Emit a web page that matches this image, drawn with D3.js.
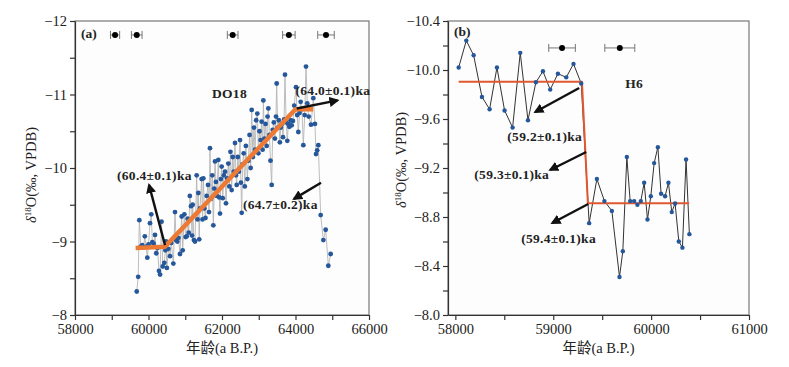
<!DOCTYPE html>
<html>
<head>
<meta charset="utf-8">
<script src="https://cdn.jsdelivr.net/npm/d3@7"></script>
<style>
  body { margin: 0; background: #fff; }
  svg text { font-family: "Liberation Serif", "DejaVu Serif", "Noto Sans CJK SC", serif !important; fill: #222; }
</style>
</head>
<body>
<svg id="chart" width="789" height="367" font-family="Liberation Serif, DejaVu Serif, serif"></svg>
<script>
// (a) DO18 record: age (a B.P.) and d18O (permil, VPDB)
const ageA = [59680, 59720, 59750, 59790, 59830, 59865, 59900, 59935, 59968, 60000,
  60040, 60075, 60105, 60140, 60177, 60212, 60245, 60285, 60315, 60355,
  60388, 60430, 60460, 60476, 60500, 60540, 60585, 60620, 60676, 60721,
  60750, 60785, 60815, 60857, 60903, 60930, 60976, 61010, 61040, 61065,
  61095, 61125, 61157, 61185, 61203, 61235, 61265, 61311, 61335, 61356,
  61380, 61401, 61446, 61470, 61492, 61520, 61550, 61583, 61620, 61646,
  61673, 61700, 61735, 61764, 61790, 61810, 61835, 61860, 61900, 61925,
  61946, 61970, 61991, 62020, 62050, 62082, 62109, 62140, 62172, 62200,
  62230, 62263, 62291, 62320, 62354, 62380, 62400, 62430, 62460, 62490,
  62515, 62536, 62560, 62590, 62620, 62650, 62690, 62717, 62750, 62780,
  62808, 62840, 62870, 62900, 62930, 62961, 62990, 63020, 63050, 63079,
  63105, 63125, 63155, 63185, 63215, 63240, 63261, 63290, 63320, 63352,
  63380, 63410, 63440, 63470, 63488, 63515, 63545, 63575, 63600, 63630,
  63660, 63690, 63714, 63745, 63777, 63805, 63832, 63865, 63897, 63930,
  63965, 64014, 64045, 64077, 64110, 64141, 64175, 64213, 64250, 64286,
  64320, 64360, 64422, 64485, 64530, 64558, 64590, 64621, 64685, 64758,
  64821, 64893, 64957]
const d18oA = [-8.32, -8.52, -9.29, -8.93, -8.95, -8.92, -9.07, -8.93, -8.78, -8.96,
  -9.25, -9.37, -8.99, -8.97, -9.09, -8.84, -8.91, -8.60, -8.55, -9.27,
  -8.66, -8.71, -8.88, -9.00, -8.64, -8.90, -8.80, -8.98, -8.70, -9.40,
  -9.02, -9.00, -9.05, -8.83, -9.34, -8.88, -9.37, -9.06, -9.07, -9.31,
  -9.12, -9.62, -9.48, -9.08, -9.50, -9.02, -9.00, -9.90, -9.30, -9.66,
  -9.03, -9.45, -9.85, -9.30, -9.86, -9.45, -9.32, -9.62, -9.77, -9.40,
  -10.27, -9.58, -9.90, -9.22, -9.72, -10.09, -9.81, -9.62, -10.11, -9.60,
  -9.38, -9.85, -10.02, -9.59, -9.90, -9.95, -9.52, -9.86, -10.06, -9.75,
  -10.22, -9.70, -10.15, -9.95, -10.34, -9.90, -9.77, -10.15, -9.95, -10.38,
  -9.80, -9.39, -10.05, -10.20, -9.75, -10.30, -9.85, -10.10, -10.45, -10.00,
  -10.79, -10.15, -10.55, -10.25, -10.65, -10.74, -10.20, -10.50, -10.38, -10.63,
  -10.25, -10.92, -10.40, -10.60, -10.30, -10.70, -10.81, -10.45, -10.10, -9.77,
  -10.52, -10.62, -10.40, -10.70, -11.15, -10.55, -10.65, -10.35, -10.55, -10.60,
  -10.42, -10.66, -11.27, -10.62, -10.37, -10.60, -10.56, -10.65, -10.58, -10.64,
  -10.85, -11.10, -10.72, -10.49, -10.75, -10.90, -10.80, -10.31, -10.72, -11.38,
  -10.88, -10.70, -10.59, -10.95, -10.60, -10.19, -10.24, -10.31, -9.36, -9.02,
  -9.16, -8.67, -8.83]
const trendAgeA = [59650, 60450, 64000, 64480]
const trendD18oA = [-8.91, -8.93, -10.80, -10.80]

// (b) H6 record
const ageB = [58034, 58112, 58187, 58272, 58350, 58425, 58503, 58585, 58663, 58742,
  58823, 58895, 58969, 59048, 59133, 59207, 59286, 59367, 59446, 59523,
  59599, 59677, 59711, 59752, 59786, 59827, 59860, 59895, 59929, 59963,
  59997, 60031, 60069, 60102, 60143, 60177, 60211, 60245, 60283, 60320,
  60357, 60391]
const d18oB = [-10.02, -10.24, -10.12, -9.78, -9.68, -10.02, -9.67, -9.53, -10.14, -9.59,
  -9.90, -9.99, -9.84, -9.97, -9.94, -10.05, -9.89, -8.75, -9.11, -8.93,
  -8.85, -8.31, -8.52, -9.29, -8.93, -8.93, -8.90, -8.93, -9.08, -8.78,
  -8.97, -9.24, -9.37, -8.99, -8.97, -9.08, -8.84, -8.91, -8.60, -8.55,
  -9.27, -8.66]
const trendAgeB = [58034, 59293, 59354, 60388]
const trendD18oB = [-9.905, -9.905, -8.912, -8.912]

// U-Th dates with 2-sigma errors
const datesA = [59090, 59680, 62290, 63820, 64830]
const dateErrA = [125, 145, 145, 170, 225]
const datesB = [59090, 59680]
const dateErrB = [136, 153]

// annotations: [text, x, y] and arrows [x1, y1, x2, y2], data units
const labelsA = [['DO18', 61728, -10.95], ['(64.0±0.1)ka', 64000, -10.99],
  ['(60.4±0.1)ka', 59143, -9.84], ['(64.7±0.2)ka', 62571, -9.44]]
const arrowsA = [[64033, -10.81, 65143, -10.92], [60449, -8.95, 60014, -9.77],
  [64694, -9.80, 63959, -9.58]]
const labelsB = [['H6', 59735, -9.853], ['(59.2±0.1)ka', 58531, -9.42],
  ['(59.3±0.1)ka', 58194, -9.11], ['(59.4±0.1)ka', 58673, -8.59]]
const arrowsB = [[59265, -9.853, 58816, -9.657], [59337, -9.331, 58969, -9.184],
  [59357, -8.906, 58990, -8.751]]

const svg = d3.select('#chart')

svg.append('defs').append('marker')
  .attr('id', 'head')
  .attr('viewBox', '0 0 10 10')
  .attr('refX', 8).attr('refY', 5)
  .attr('markerWidth', 4.2).attr('markerHeight', 4.2)
  .attr('markerUnits', 'strokeWidth')
  .attr('orient', 'auto')
  .append('path').attr('d', 'M0,0 L10,5 L0,10 Z').attr('fill', '#111')

function drawPanel (cfg) {
  const x = d3.scaleLinear().domain(cfg.xDomain).range(cfg.xRange)
  const y = d3.scaleLinear().domain(cfg.yDomain).range(cfg.yRange)
  const g = svg.append('g')

  // frame
  g.append('rect')
    .attr('x', cfg.xRange[0]).attr('y', cfg.yRange[1])
    .attr('width', cfg.xRange[1] - cfg.xRange[0])
    .attr('height', cfg.yRange[0] - cfg.yRange[1])
    .attr('fill', '#fdfdfd').attr('stroke', '#777').attr('stroke-width', 1.2)

  const xAxis = g.append('g')
    .attr('transform', 'translate(0,' + cfg.yRange[0] + ')')
    .call(d3.axisBottom(x).tickValues(cfg.xTicks).tickSize(5).tickSizeOuter(0).tickPadding(4)
      .tickFormat(d => cfg.xLabels.includes(d) ? d : ''))
  const yAxis = g.append('g')
    .attr('transform', 'translate(' + cfg.xRange[0] + ',0)')
    .call(d3.axisLeft(y).tickValues(cfg.yTicks).tickSize(5).tickSizeOuter(0).tickPadding(3)
      .tickFormat(d => cfg.yLabels.includes(d) ? cfg.yFormat(d) : ''))
  for (const a of [xAxis, yAxis]) {
    a.attr('font-family', null)
    a.selectAll('text').attr('font-size', 14.5).attr('fill', '#222')
    a.selectAll('line, path').attr('stroke', '#333').attr('stroke-width', 1.2)
  }

  // axis titles
  g.append('text')
    .attr('x', (cfg.xRange[0] + cfg.xRange[1]) / 2).attr('y', 353)
    .attr('text-anchor', 'middle').attr('font-size', 14.5)
    .text('年龄(a B.P.)')
  const yt = g.append('text')
    .attr('transform', 'translate(' + cfg.yTitleX + ',' + cfg.yTitleY + ') rotate(-90)')
    .attr('text-anchor', 'middle').attr('font-size', 14.5)
  yt.append('tspan').attr('font-style', 'italic').text('δ')
  yt.append('tspan').attr('font-size', 9).attr('dy', -5).text('18')
  yt.append('tspan').attr('dy', 5).text('O(‰, VPDB)')

  // series
  const pts = cfg.age.map((a, i) => [a, cfg.d18o[i]])
  g.append('path')
    .datum(pts)
    .attr('fill', 'none').attr('stroke', cfg.lineColor).attr('stroke-width', cfg.lineWidth)
    .attr('d', d3.line().x(d => x(d[0])).y(d => y(d[1])))

  const trend = cfg.trendAge.map((a, i) => [a, cfg.trendD18o[i]])
  const trendPath = g.append('path')
    .datum(trend)
    .attr('fill', 'none').attr('stroke', cfg.trendColor).attr('stroke-width', cfg.trendWidth)
    .attr('stroke-linejoin', 'round')
    .attr('d', d3.line().x(d => x(d[0])).y(d => y(d[1])))

  g.selectAll('circle.pt')
    .data(pts)
    .join('circle')
    .classed('pt', true)
    .attr('cx', d => x(d[0])).attr('cy', d => y(d[1]))
    .attr('r', cfg.dotR).attr('fill', '#25579a')

  if (cfg.trendOnTop) trendPath.raise()

  // dating error bars
  const eb = g.selectAll('g.date')
    .data(cfg.dates.map((d, i) => [d, cfg.dateErr[i]]))
    .join('g').classed('date', true)
  const ey = y(cfg.dateY)
  eb.append('line')
    .attr('x1', d => x(d[0] - d[1])).attr('x2', d => x(d[0] + d[1]))
    .attr('y1', ey).attr('y2', ey).attr('stroke', '#777').attr('stroke-width', 1)
  for (const s of [-1, 1]) {
    eb.append('line')
      .attr('x1', d => x(d[0] + s * d[1])).attr('x2', d => x(d[0] + s * d[1]))
      .attr('y1', ey - 4).attr('y2', ey + 4).attr('stroke', '#777').attr('stroke-width', 1)
  }
  eb.append('circle').attr('cx', d => x(d[0])).attr('cy', ey).attr('r', 3).attr('fill', '#000')

  // arrows and labels
  g.selectAll('line.arrow')
    .data(cfg.arrows)
    .join('line').classed('arrow', true)
    .attr('x1', d => x(d[0])).attr('y1', d => y(d[1]))
    .attr('x2', d => x(d[2])).attr('y2', d => y(d[3]))
    .attr('stroke', '#111').attr('stroke-width', 2.4)
    .attr('marker-end', 'url(#head)')

  g.selectAll('text.lab')
    .data(cfg.labels)
    .join('text').classed('lab', true)
    .attr('x', d => x(d[1])).attr('y', d => y(d[2]))
    .attr('font-size', 13.5).attr('font-weight', 'bold').attr('letter-spacing', 0.3)
    .text(d => d[0])

  g.append('text')
    .attr('x', cfg.tagX).attr('y', cfg.tagY)
    .attr('font-size', 13.5).attr('font-weight', 'bold')
    .text(cfg.tag)
}

drawPanel({
  xDomain: [58000, 66000], xRange: [75, 369],
  yDomain: [-8, -12], yRange: [315, 21],
  xTicks: d3.range(58000, 66001, 1000), xLabels: [58000, 60000, 62000, 64000, 66000],
  yTicks: d3.range(-12, -7.9, 0.5), yLabels: [-12, -11, -10, -9, -8], yFormat: d3.format('d'),
  yTitleX: 36, yTitleY: 175,
  age: ageA, d18o: d18oA, lineColor: '#b5b5b5', lineWidth: 0.9, dotR: 2.4,
  trendAge: trendAgeA, trendD18o: trendD18oA, trendColor: '#ec7a35', trendWidth: 4.5, trendOnTop: true,
  dates: datesA, dateErr: dateErrA, dateY: -11.81,
  arrows: arrowsA, labels: labelsA, tag: '(a)', tagX: 81, tagY: 38
})

drawPanel({
  xDomain: [57925, 61000], xRange: [448, 749],
  yDomain: [-8, -10.4], yRange: [315, 21],
  xTicks: d3.range(58000, 61001, 500), xLabels: [58000, 59000, 60000, 61000],
  yTicks: d3.range(-10.4, -7.95, 0.2).map(v => +v.toFixed(1)), yLabels: [-10.4, -10, -9.6, -9.2, -8.8, -8.4, -8],
  yFormat: d3.format('.1f'),
  yTitleX: 406, yTitleY: 160,
  age: ageB, d18o: d18oB, lineColor: '#333', lineWidth: 1, dotR: 2.2,
  trendAge: trendAgeB, trendD18o: trendD18oB, trendColor: '#e0582e', trendWidth: 2, trendOnTop: false,
  dates: datesB, dateErr: dateErrB, dateY: -10.18,
  arrows: arrowsB, labels: labelsB, tag: '(b)', tagX: 454, tagY: 36
})
</script>
</body>
</html>
